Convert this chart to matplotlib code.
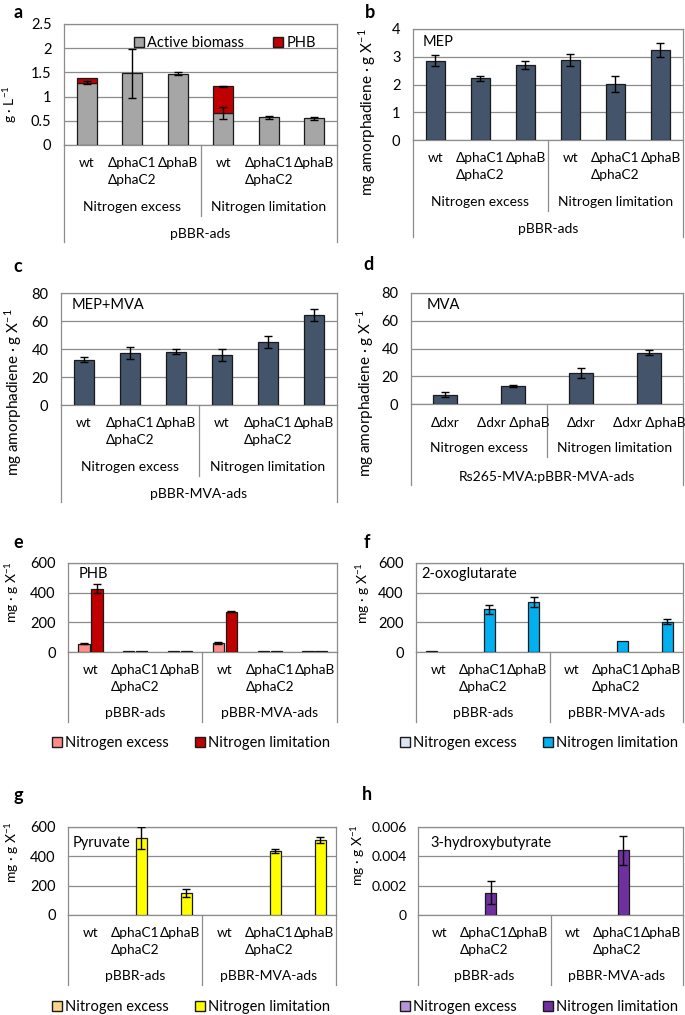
import numpy as np
import matplotlib.pyplot as plt
from matplotlib.transforms import blended_transform_factory
from matplotlib.lines import Line2D
from matplotlib.patches import Patch
from matplotlib.ticker import FuncFormatter

plt.rcParams['font.family'] = ['Lato', 'DejaVu Sans']
plt.rcParams['font.size'] = 9.5

W, H = 685, 1015
GRID = '#8c8c8c'
EDGE = '#1a1a1a'

# ---- data ----
strains_r1 = ['wt', 'ΔphaC1', 'ΔphaB', 'wt', 'ΔphaC1', 'ΔphaB']
strains_r2 = ['', 'ΔphaC2', '', '', 'ΔphaC2', '']
conditions = ['Nitrogen excess', 'Nitrogen limitation']
plasmids = ['pBBR-ads', 'pBBR-MVA-ads']

# a: biomass (g/L)
a_biomass = [1.29, 1.48, 1.47, 0.66, 0.57, 0.55]
a_biomass_err = [0.035, 0.50, 0.03, 0.115, 0.03, 0.03]
a_phb = [0.09, 0, 0, 0.55, 0, 0]
a_phb_err = [0, 0, 0, 0.01, 0, 0]

# b: MEP
b_mep = [2.86, 2.23, 2.70, 2.89, 2.02, 3.24]
b_mep_err = [0.21, 0.09, 0.14, 0.21, 0.30, 0.25]

# c: MEP+MVA
c_mepmva = [32.5, 37.2, 38.2, 35.6, 44.9, 64.0]
c_mepmva_err = [1.5, 4.3, 1.7, 4.3, 4.2, 4.3]

# d: MVA
d_strains = ['Δdxr', 'Δdxr ΔphaB', 'Δdxr', 'Δdxr ΔphaB']
d_mva = [6.7, 12.8, 22.6, 36.9]
d_mva_err = [1.8, 0.6, 3.6, 1.7]

# e: PHB
e_excess = [57, 4, 4, 61, 4, 4]
e_excess_err = [4, 0, 0, 4, 0, 0]
e_limit = [428, 4, 4, 272, 4, 4]
e_limit_err = [30, 0, 0, 4, 0, 0]

# f: 2-oxoglutarate
f_excess = [7, 0, 0, 0, 0, 0]
f_excess_err = [0, 0, 0, 0, 0, 0]
f_limit = [0, 287, 337, 0, 75, 204]
f_limit_err = [0, 33, 32, 0, 0, 17]

# g: pyruvate
g_excess = [0, 0, 0, 0, 0, 0]
g_excess_err = [0, 0, 0, 0, 0, 0]
g_limit = [0, 525, 148, 0, 438, 511]
g_limit_err = [0, 74, 28, 0, 15, 19]

# h: 3-hydroxybutyrate
h_excess = [0, 0, 0, 0, 0, 0]
h_excess_err = [0, 0, 0, 0, 0, 0]
h_limit = [0, 0.00153, 0, 0, 0.0044, 0]
h_limit_err = [0, 0.0008, 0, 0, 0.001, 0]

fig = plt.figure(figsize=(W / 100, H / 100), dpi=100)


def fy(p):
    return 1 - p / H


def panel(l, t, r, b, ymax, step, tsize=10.5):
    ax = fig.add_axes([l / W, 1 - b / H, (r - l) / W, (b - t) / H])
    ax.set_ylim(0, ymax)
    ax.set_yticks(np.arange(0, ymax + step / 2, step))
    ax.yaxis.set_major_formatter(FuncFormatter(lambda v, p: f'{v:g}'))
    ax.grid(axis='y', color=GRID, lw=0.9)
    ax.set_axisbelow(True)
    for s in ax.spines.values():
        s.set_color(GRID)
        s.set_linewidth(0.9)
    ax.tick_params(length=0, pad=9, labelsize=tsize)
    ax.set_xticks([])
    ax.bottom_px = b
    return ax


def vline(ax, x, y0, y1):
    tr = blended_transform_factory(ax.transData, fig.transFigure)
    ax.add_line(Line2D([x, x], [fy(y0), fy(y1)], transform=tr,
                       color=GRID, lw=0.9, clip_on=False))


def ctext(ax, x, ypx, s, size=9.8):
    tr = blended_transform_factory(ax.transData, fig.transFigure)
    ax.text(x, fy(ypx), s, transform=tr, ha='center', va='center', fontsize=size)


def cat_axis3(ax, top_label):
    b = ax.bottom_px
    n = len(strains_r1)
    for i in range(n):
        ctext(ax, i, b + 18, strains_r1[i])
        ctext(ax, i, b + 35, strains_r2[i])
    ctext(ax, 1, b + 62, conditions[0], 10)
    ctext(ax, 4, b + 62, conditions[1], 10)
    ctext(ax, 2.5, b + 89, top_label, 10)
    vline(ax, -0.5, b, b + 97)
    vline(ax, n - 0.5, b, b + 97)
    vline(ax, 2.5, b, b + 71)
    ax.set_xlim(-0.5, n - 0.5)


def cat_axis_plasmid(ax):
    b = ax.bottom_px
    n = len(strains_r1)
    for i in range(n):
        ctext(ax, i, b + 18, strains_r1[i])
        ctext(ax, i, b + 35, strains_r2[i])
    ctext(ax, 1, b + 61, plasmids[0], 10)
    ctext(ax, 4, b + 61, plasmids[1], 10)
    vline(ax, -0.5, b, b + 70)
    vline(ax, n - 0.5, b, b + 70)
    vline(ax, 2.5, b, b + 70)
    ax.set_xlim(-0.5, n - 0.5)


def errs(ax, x, y, e):
    x = np.asarray(x, float)
    y = np.asarray(y, float)
    e = np.asarray(e, float)
    m = e > 0
    ax.errorbar(x[m], y[m], yerr=e[m], fmt='none', ecolor='black',
                elinewidth=1, capsize=3, capthick=1, zorder=4)


def pair_bars(ax, excess, excess_err, limit, limit_err, c_ex, c_lim):
    x = np.arange(len(excess))
    ex = np.asarray(excess, float)
    li = np.asarray(limit, float)
    m = ex > 0
    ax.bar(x[m] - 0.145, ex[m], 0.25, color=c_ex, edgecolor=EDGE, lw=0.9, zorder=3)
    m = li > 0
    ax.bar(x[m] + 0.145, li[m], 0.25, color=c_lim, edgecolor=EDGE, lw=0.9, zorder=3)
    errs(ax, x - 0.145, ex, excess_err)
    errs(ax, x + 0.145, li, limit_err)


def inner_label(ax, l, t, r, b, dx, dy, s):
    ax.text(dx / (r - l), 1 - dy / (b - t), s, transform=ax.transAxes,
            ha='left', va='center', fontsize=10.5)


def letter(x, y, s):
    fig.text(x / W, fy(y), s, fontsize=13, fontweight='bold', ha='center', va='center')


def ylab(x, y, s, size):
    fig.text(x / W, fy(y), s, rotation=90, ha='center', va='center', fontsize=size)


UNIT = 'mg amorphadiene · g X$^{\\mathregular{-1}}$'
UNIT2 = 'mg · g X$^{\\mathregular{-1}}$'

# ---- panel a ----
ax = panel(64, 24, 337, 145, 2.5, 0.5)
x = np.arange(6)
ax.bar(x, a_biomass, 0.43, color='#a6a6a6', edgecolor=EDGE, lw=0.9, zorder=3)
phb = np.asarray(a_phb, float)
m = phb > 0
ax.bar(x[m], phb[m], 0.43, bottom=np.asarray(a_biomass)[m], color='#c00000',
       edgecolor=EDGE, lw=0.9, zorder=3)
errs(ax, x, a_biomass, a_biomass_err)
errs(ax, x, np.asarray(a_biomass) + phb, a_phb_err)
cat_axis3(ax, plasmids[0])
ax.legend(handles=[Patch(facecolor='#a6a6a6', edgecolor=EDGE, label='Active biomass'),
                   Patch(facecolor='#c00000', edgecolor=EDGE, label='PHB')],
          ncol=2, loc='upper right', bbox_to_anchor=(0.97, 1.01), frameon=False,
          handlelength=0.7, handleheight=0.7, handletextpad=0.2, columnspacing=2.0,
          fontsize=10.5)
letter(18, 13, 'a')
ylab(10, 104, 'g · L$^{\\mathregular{-1}}$', 10)

# ---- panel b ----
ax = panel(413, 29, 683, 140, 4, 1)
ax.bar(np.arange(6), b_mep, 0.43, color='#44546a', edgecolor=EDGE, lw=0.9, zorder=3)
errs(ax, np.arange(6), b_mep, b_mep_err)
cat_axis3(ax, plasmids[0])
inner_label(ax, 413, 29, 683, 140, 10, 13, 'MEP')
letter(370, 13, 'b')
ylab(367, 112, UNIT, 11)

# ---- panel c ----
ax = panel(61, 293, 337, 405, 80, 20)
ax.bar(np.arange(6), c_mepmva, 0.43, color='#44546a', edgecolor=EDGE, lw=0.9, zorder=3)
errs(ax, np.arange(6), c_mepmva, c_mepmva_err)
cat_axis3(ax, plasmids[1])
inner_label(ax, 61, 293, 337, 405, 11, 12, 'MEP+MVA')
letter(18, 267, 'c')
ylab(13, 392, UNIT, 11)

# ---- panel d ----
ax = panel(411, 293, 683, 404, 80, 20)
xd = np.arange(4)
ax.bar(xd, d_mva, 0.34, color='#44546a', edgecolor=EDGE, lw=0.9, zorder=3)
errs(ax, xd, d_mva, d_mva_err)
b = ax.bottom_px
for i, s in enumerate(d_strains):
    ctext(ax, i, b + 19, s)
ctext(ax, 0.5, b + 44, conditions[0], 10)
ctext(ax, 2.5, b + 44, conditions[1], 10)
ctext(ax, 1.5, b + 73, 'Rs265-MVA:pBBR-MVA-ads', 10)
vline(ax, -0.5, b, b + 81)
vline(ax, 3.5, b, b + 81)
vline(ax, 1.5, b, b + 53)
ax.set_xlim(-0.5, 3.5)
inner_label(ax, 411, 293, 683, 404, 16, 12, 'MVA')
letter(368, 265, 'd')
ylab(365, 393, UNIT, 11)


def bottom_legend(xc, ypx, c_ex, c_lim):
    fig.legend(handles=[Patch(facecolor=c_ex, edgecolor=EDGE, label=conditions[0]),
                        Patch(facecolor=c_lim, edgecolor=EDGE, label=conditions[1])],
               ncol=2, loc='center', bbox_to_anchor=(xc / W, fy(ypx)), frameon=False,
               handlelength=0.7, handleheight=0.7, handletextpad=0.2,
               columnspacing=1.8, fontsize=10.5)


# ---- panel e ----
ax = panel(68, 563, 337, 652, 600, 200)
pair_bars(ax, e_excess, e_excess_err, e_limit, e_limit_err, '#ff8c8c', '#c00000')
cat_axis_plasmid(ax)
inner_label(ax, 68, 563, 337, 652, 11, 11, 'PHB')
bottom_legend(191, 743, '#ff8c8c', '#c00000')
letter(18, 543, 'e')
ylab(12, 592, UNIT2, 10)

# ---- panel f ----
ax = panel(416, 563, 683, 652, 600, 200)
pair_bars(ax, f_excess, f_excess_err, f_limit, f_limit_err, '#dce6f2', '#00b0f0')
cat_axis_plasmid(ax)
inner_label(ax, 416, 563, 683, 652, 5, 11, '2-oxoglutarate')
bottom_legend(539, 743, '#dce6f2', '#00b0f0')
letter(367, 543, 'f')
ylab(363, 593, UNIT2, 10)

# ---- panel g ----
ax = panel(68, 827, 336, 915, 600, 200)
pair_bars(ax, g_excess, g_excess_err, g_limit, g_limit_err, '#fcd58a', '#ffff00')
cat_axis_plasmid(ax)
inner_label(ax, 68, 827, 336, 915, 5, 16, 'Pyruvate')
bottom_legend(191, 1007, '#fcd58a', '#ffff00')
letter(18, 795, 'g')
ylab(12, 852, UNIT2, 10)

# ---- panel h ----
ax = panel(418, 827, 683, 915, 0.006, 0.002, tsize=10)
ax.tick_params(pad=8)
pair_bars(ax, h_excess, h_excess_err, h_limit, h_limit_err, '#b594d9', '#7030a0')
cat_axis_plasmid(ax)
inner_label(ax, 418, 827, 683, 915, 12, 16, '3-hydroxybutyrate')
bottom_legend(539, 1007, '#b594d9', '#7030a0')
letter(367, 795, 'h')
ylab(358, 855, UNIT2, 10)

fig.savefig('out.png', dpi=100)
